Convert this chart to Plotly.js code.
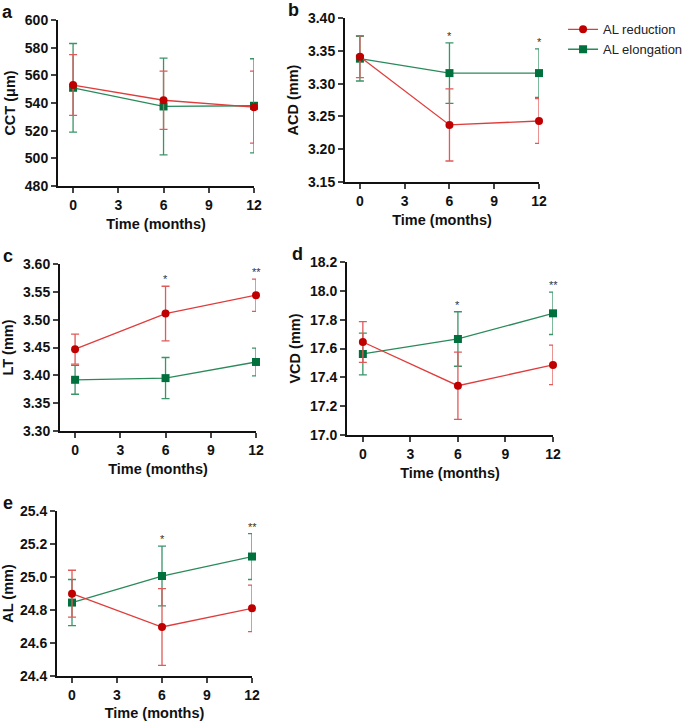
<!DOCTYPE html>
<html>
<head>
<meta charset="utf-8">
<script src="https://cdn.plot.ly/plotly-3.0.1.min.js"></script>
<style>
  body { margin: 0; background: #fff; }
  #plot { width: 685px; height: 721px; }
</style>
</head>
<body>
<div id="plot"></div>
<script>
// Time points
let months = [0, 6, 12];

// CCT (um)
let cctRed = [553, 542, 537];
let cctRedSD = [22, 21, 26];
let cctGreen = [551, 537.5, 538];
let cctGreenSD = [32, 35, 34];

// ACD (mm)
let acdRed = [3.341, 3.237, 3.243];
let acdRedSD = [0.032, 0.055, 0.034];
let acdGreen = [3.338, 3.316, 3.316];
let acdGreenSD = [0.034, 0.046, 0.037];

// LT (mm)
let ltRed = [3.447, 3.511, 3.544];
let ltRedSD = [0.027, 0.049, 0.029];
let ltGreen = [3.392, 3.395, 3.424];
let ltGreenSD = [0.026, 0.037, 0.025];

// VCD (mm)
let vcdRed = [17.645, 17.342, 17.486];
let vcdRedSD = [0.141, 0.233, 0.137];
let vcdGreen = [17.562, 17.666, 17.844];
let vcdGreenSD = [0.145, 0.189, 0.147];

// AL (mm)
let alRed = [24.899, 24.697, 24.810];
let alRedSD = [0.142, 0.233, 0.141];
let alGreen = [24.845, 25.006, 25.124];
let alGreenSD = [0.140, 0.181, 0.139];

// significance marks per time point
let acdSig = ['', '*', '*'];
let ltSig = ['', '*', '**'];
let vcdSig = ['', '*', '**'];
let alSig = ['', '*', '**'];

let redLine = '#e03c3c';
let redMark = '#c00000';
let redErr = '#e05a5a';
let greenLine = '#2a8a5a';
let greenMark = '#00703c';
let greenErr = '#3a9468';

let W = 685, H = 721;

// panel boxes in pixels: [left, right, top, bottom]
let panels = [
  {key: '', box: [58, 254, 20, 186], yr: [480, 600], dt: 20, title: 'CCT (μm)', letter: 'a',
   red: cctRed, redSD: cctRedSD, green: cctGreen, greenSD: cctGreenSD, sig: ['', '', ''], fmt: 'd'},
  {key: '2', box: [345, 539, 18, 182], yr: [3.15, 3.40], dt: 0.05, title: 'ACD (mm)', letter: 'b',
   red: acdRed, redSD: acdRedSD, green: acdGreen, greenSD: acdGreenSD, sig: acdSig, fmt: '.2f'},
  {key: '3', box: [60, 256, 264, 431], yr: [3.30, 3.60], dt: 0.05, title: 'LT (mm)', letter: 'c',
   red: ltRed, redSD: ltRedSD, green: ltGreen, greenSD: ltGreenSD, sig: ltSig, fmt: '.2f'},
  {key: '4', box: [347, 553, 262, 435], yr: [17.0, 18.2], dt: 0.2, title: 'VCD (mm)', letter: 'd',
   red: vcdRed, redSD: vcdRedSD, green: vcdGreen, greenSD: vcdGreenSD, sig: vcdSig, fmt: '.1f'},
  {key: '5', box: [57, 252, 511, 676], yr: [24.4, 25.4], dt: 0.2, title: 'AL (mm)', letter: 'e',
   red: alRed, redSD: alRedSD, green: alGreen, greenSD: alGreenSD, sig: alSig, fmt: '.1f'}
];

let data = [];
let layout = {
  width: W, height: H,
  margin: {l: 0, r: 0, t: 0, b: 0, autoexpand: false},
  paper_bgcolor: '#fff', plot_bgcolor: 'rgba(0,0,0,0)',
  font: {family: 'Liberation Sans, Arial, sans-serif', color: '#1a1a1a'},
  showlegend: true,
  legend: {x: 0.822, y: 0.98, xanchor: 'left', yanchor: 'top', font: {size: 13, color: '#222'},
           itemwidth: 30},
  annotations: []
};

let tickFont = {size: 14, weight: 'bold', color: '#111'};
let titleFont = {size: 14.5, weight: 'bold', color: '#111'};

panels.forEach(function (p, i) {
  let xa = 'xaxis' + p.key, ya = 'yaxis' + p.key;
  let xr = 'x' + p.key, yr = 'y' + p.key;

  data.push({
    x: months, y: p.green, xaxis: xr, yaxis: yr, name: 'AL elongation',
    type: 'scatter', mode: 'lines+markers', showlegend: i === 0, legendrank: 2, cliponaxis: false,
    line: {color: greenLine, width: 1.3},
    marker: {symbol: 'square', size: 8, color: greenMark},
    error_y: {type: 'data', array: p.greenSD, visible: true, color: greenErr, thickness: 1.3, width: 4}
  });
  data.push({
    x: months, y: p.red, xaxis: xr, yaxis: yr, name: 'AL reduction',
    type: 'scatter', mode: 'lines+markers', showlegend: i === 0, legendrank: 1, cliponaxis: false,
    line: {color: redLine, width: 1.3},
    marker: {symbol: 'circle', size: 8, color: redMark},
    error_y: {type: 'data', array: p.redSD, visible: true, color: redErr, thickness: 1.3, width: 4}
  });

  layout[xa] = {
    domain: [p.box[0] / W, p.box[1] / W], anchor: yr,
    range: [-1, 12], tickvals: [0, 3, 6, 9, 12], ticks: 'outside', ticklen: 5, tickwidth: 2,
    showline: true, linecolor: '#111', linewidth: 2, showgrid: false, zeroline: false,
    tickfont: tickFont, title: {text: 'Time (months)', font: titleFont, standoff: 7}
  };
  layout[ya] = {
    domain: [1 - p.box[3] / H, 1 - p.box[2] / H], anchor: xr,
    range: p.yr, dtick: p.dt, tick0: p.yr[0], tickformat: p.fmt,
    ticks: 'outside', ticklen: 5, tickwidth: 2,
    showline: true, linecolor: '#111', linewidth: 2, showgrid: false, zeroline: false,
    tickfont: tickFont, title: {text: p.title, font: titleFont, standoff: 6}
  };

  // panel letter
  let lx = [8, 293, 8, 297, 8][i];
  let ly = p.box[2] - 8;
  layout.annotations.push({
    text: p.letter, xref: 'paper', yref: 'paper', x: lx / W, y: 1 - ly / H,
    xanchor: 'center', yanchor: 'middle', showarrow: false,
    font: {size: 18, weight: 'bold', color: '#111'}
  });

  // significance stars above the highest error bar
  p.sig.forEach(function (s, j) {
    if (!s) return;
    let top = Math.max(p.red[j] + p.redSD[j], p.green[j] + p.greenSD[j]);
    layout.annotations.push({
      text: s, xref: xr, yref: yr, x: months[j], y: top,
      xanchor: 'center', yanchor: 'bottom', yshift: -1, showarrow: false,
      font: {size: 11, color: '#333'}
    });
  });
});

Plotly.newPlot('plot', data, layout, {staticPlot: true});
</script>
</body>
</html>
